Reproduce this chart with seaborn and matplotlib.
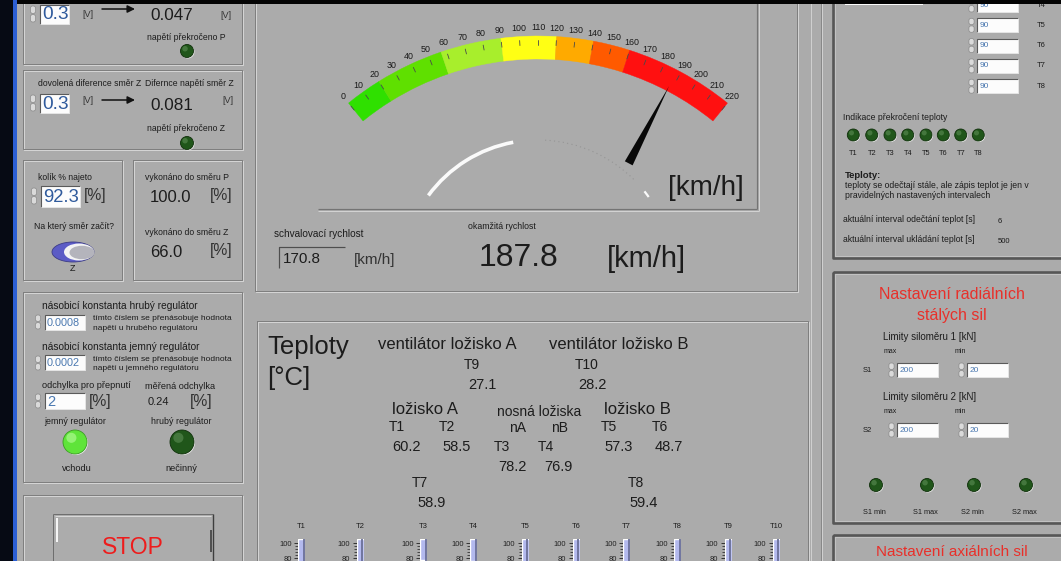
import numpy as np
import pandas as pd
import matplotlib
matplotlib.use("Agg")
import matplotlib.pyplot as plt
import seaborn as sns
from matplotlib.patches import Rectangle, Circle, Ellipse, Arc, FancyBboxPatch

# ---------------- data ----------------
GAUGE_MIN, GAUGE_MAX = 0, 220
GAUGE_TICKS = list(range(0, 221, 10))
BAND_EDGES = [0, 20, 57, 90, 120, 140, 160, 220]
BAND_COLORS = ['#2fe000', '#5fe000', '#a8ee2c', '#ffff14', '#ffaa00', '#ff5a00', '#ff1010']
SPEED_NOW = 187.8
SPEED_APPROVAL = 170.8

THERMO_NAMES = ['T1', 'T2', 'T3', 'T4', 'T5', 'T6', 'T7', 'T8', 'T9', 'T10']
THERMO_VALUES = [60.2, 58.5, 78.2, 76.9, 57.3, 48.7, 58.9, 59.4, 27.1, 28.2]
THERMO_TICKS = [80, 100]

LIMIT_P, DIFF_P = 0.3, 0.047
LIMIT_Z, DIFF_Z = 0.3, 0.081
PCT_DONE = 92.3
DONE_P, DONE_Z = 100.0, 66.0
K_COARSE, K_FINE = "0.0008", "0.0002"
SWITCH_DEV, MEAS_DEV = 2, 0.24

TEMP_LIMIT_NAMES = ['T4', 'T5', 'T6', 'T7', 'T8']
TEMP_LIMITS = [90, 90, 90, 90, 90]
LED_NAMES = ['T1', 'T2', 'T3', 'T4', 'T5', 'T6', 'T7', 'T8']
READ_INTERVAL, SAVE_INTERVAL = 6, 500
S_LIMITS = {'S1': (200, 20), 'S2': (200, 20)}
S_LED_NAMES = ['S1 min', 'S1 max', 'S2 min', 'S2 max']

# ---------------- figure ----------------
sns.set_theme(style="white")
plt.rcParams['font.family'] = ['Liberation Sans', 'DejaVu Sans']

W, H = 1061, 561
BG = '#ababab'
BLUE = '#2f5a9c'
LBLUE = '#4a78b0'
fig = plt.figure(figsize=(W / 100, H / 100), dpi=100, facecolor=BG)
ax = fig.add_axes([0, 0, 1, 1])
ax.set_xlim(0, W)
ax.set_ylim(H, 0)
ax.axis('off')
PX = 0.72


def T(x, y, s, fs, c='#1c1c1c', ha='left', va='center', **kw):
    ax.text(x, y, s, fontsize=fs, color=c, ha=ha, va=va, zorder=6, **kw)


def R(x0, y0, x1, y1, fc, z=1, **kw):
    ax.add_patch(Rectangle((x0, y0), x1 - x0, y1 - y0, facecolor=fc,
                           edgecolor='none', zorder=z, **kw))


def L(xs, ys, c, w=1.0, z=3, **kw):
    ax.plot(xs, ys, color=c, lw=w * PX, zorder=z, solid_capstyle='butt', **kw)


def box(x0, y0, x1, y1, dark='#7f7f7f', light='#d4d4d4'):
    L([x0 + 1, x1 + 1, x1 + 1, x0 + 1, x0 + 1], [y0 + 1, y0 + 1, y1 + 1, y1 + 1, y0 + 1], light)
    L([x0, x1, x1, x0, x0], [y0, y0, y1, y1, y0], dark)


def dbox(x0, y0, x1, y1):
    L([x0, x1, x1, x0, x0], [y0, y0, y1, y1, y0], '#565656', w=2.6)
    d = 2.2
    L([x0 + d, x1 - d, x1 - d, x0 + d, x0 + d], [y0 + d, y0 + d, y1 - d, y1 - d, y0 + d], '#c9c9c9', w=0.8)


def spin(x, y, h=16):
    for yy in (y - h / 2, y + 0.6):
        ax.add_patch(FancyBboxPatch((x - 2.6, yy), 5.2, h / 2 - 0.6,
                                    boxstyle='round,pad=0,rounding_size=2.2',
                                    fc='#dadada', ec='#8a8a8a', lw=0.5, zorder=4))


def numbox(x0, y0, x1, y1):
    R(x0, y0, x1, y1, '#fcfcfc', z=3)
    L([x0, x0, x1], [y1, y0, y0], '#5a5a5a', w=1.1, z=4)
    L([x0, x1, x1], [y1, y1, y0], '#e4e4e4', w=1, z=4)


def led(x, y, r, on=False):
    base, hi, edge = ('#5fe43a', '#c0ffa6', '#3a9a22') if on else ('#20561a', '#63935a', '#0f2e0a')
    ax.add_patch(Circle((x + 0.9, y + 0.9), r, fc='#efefef', ec='none', zorder=4))
    ax.add_patch(Circle((x, y), r, fc=base, ec=edge, lw=0.6, zorder=5))
    ax.add_patch(Circle((x - r * 0.3, y - r * 0.35), r * 0.42, fc=hi, ec='none', alpha=0.55, zorder=6))


def arrow(x0, x1, y):
    ax.annotate('', xy=(x1, y), xytext=(x0, y),
                arrowprops=dict(arrowstyle='-|>', color='#111111', lw=1.1,
                                mutation_scale=11, shrinkA=0, shrinkB=0), zorder=5)


# background
R(0, 0, W, H, BG, z=0)

# ---------------- left column ----------------
box(23, -5, 242, 64)
box(23, 70, 242, 149)
box(23, 160, 122, 280)
box(133, 160, 242, 280)
box(23, 292, 242, 482)
box(23, 495, 242, 575)

spin(33, 14); numbox(40, 5, 69, 24)
T(42, 14.5, f'{LIMIT_P}', 13.8, c=BLUE)
T(82, 14, '[V]', 6.5, c='#333333')
arrow(102, 135, 9)
T(150, 15, f'{DIFF_P:.3f}', 12.3)
T(220, 15, '[V]', 6.5, c='#333333')
T(186, 37, 'napětí překročeno P', 6.2, ha='center')
led(187, 51, 6.5)

T(38, 83, 'dovolená diference směr Z', 6.2)
T(145, 83, 'Difernce napětí směr Z', 6.2)
spin(33, 103); numbox(40, 94, 69, 113)
T(42, 104, f'{LIMIT_Z}', 13.8, c=BLUE)
T(82, 100, '[V]', 6.5, c='#333333')
arrow(102, 135, 100)
T(150, 105, f'{DIFF_Z:.3f}', 12.3)
T(222, 100, '[V]', 6.5, c='#333333')
T(186, 128, 'napětí překročeno Z', 6.2, ha='center')
led(187, 143, 6.5)

T(38, 177, 'kolík % najeto', 6.2)
spin(34, 196); numbox(41, 186, 80, 207)
T(43, 197, f'{PCT_DONE}', 13.3, c=BLUE)
T(84, 195, '[%]', 11.3, c='#333333')
T(73.5, 226, 'Na který směr začít?', 6.2, ha='center')
ax.add_patch(Ellipse((73, 252), 42, 20, fc='#5c5cc6', ec='#3c3c86', lw=0.6, zorder=4))
ax.add_patch(Ellipse((79, 252), 30, 17, fc='#f4f4f4', ec='none', zorder=5))
ax.add_patch(Ellipse((82, 252.5), 25, 13.5, fc='#b4b4bc', ec='none', zorder=5))
T(73, 268, 'Z', 6.5, ha='center')

T(145, 177, 'vykonáno do směru P', 6.2)
T(150, 197, f'{DONE_P:.1f}', 12)
T(210, 195, '[%]', 11.3, c='#333333')
T(145, 232, 'vykonáno do směru Z', 6.2)
T(150, 252, f'{DONE_Z:.1f}', 12)
T(210, 250, '[%]', 11.3, c='#333333')

T(42, 306, 'násobicí konstanta hrubý regulátor', 7.3)
spin(38, 322, 14); numbox(45, 315, 85, 330)
T(47, 322.5, K_COARSE, 7.8, c=LBLUE)
T(93, 318, 'tímto číslem se přenásobuje hodnota', 6)
T(93, 328, 'napětí u hrubého regulátoru', 6)
T(42, 347, 'násobicí konstanta jemný regulátor', 7.3)
spin(38, 363, 14); numbox(45, 355, 85, 370)
T(47, 363, K_FINE, 7.8, c=LBLUE)
T(93, 359, 'tímto číslem se přenásobuje hodnota', 6)
T(93, 368, 'napětí u jemného regulátoru', 6)
T(42, 385, 'odchylka pro přepnutí', 6.6)
T(145, 386, 'měřená odchylka', 6.6)
spin(38, 401, 14); numbox(45, 393, 85, 409)
T(47, 401.5, f'{SWITCH_DEV}', 10.5, c=LBLUE)
T(89, 401, '[%]', 11.3, c='#333333')
T(148, 402, f'{MEAS_DEV}', 8)
T(190, 401, '[%]', 11.3, c='#333333')
T(75, 421, 'jemný regulátor', 6.4, ha='center')
T(181, 421, 'hrubý regulátor', 6.4, ha='center')
led(75, 442, 12, on=True)
led(182, 442, 12)
T(77, 468, 'vchodu', 6.7, ha='center')
T(181, 468, 'nečinný', 6.7, ha='center')

# STOP button
R(53, 514, 213, 575, '#acacac', z=2)
L([53, 53], [514, 575], '#6e6e6e', w=1)
L([53, 213], [514, 514], '#6e6e6e', w=1)
L([213, 213], [514, 575], '#3e3e3e', w=1.4)
L([56.5, 56.5], [518, 542], '#f6f6f6', w=2)
L([54.5, 211], [516, 516], '#d8d8d8', w=1)
L([210.5, 210.5], [530, 552], '#333333', w=1.5)
T(133, 547, 'STOP', 16.5, c='#ee1c1c', ha='center')

# ---------------- middle: gauge panel ----------------
box(255, -5, 797, 291)
L([318, 757], [209, 209], '#747474', w=1.2)
L([318, 758.5], [210.6, 210.6], '#d2d2d2', w=1)
L([757, 757], [0, 209], '#747474', w=1.2)
L([758.6, 758.6], [0, 210.6], '#d2d2d2', w=1)

# hub ring reflections
ax.add_patch(Arc((538, 276), 272, 272, theta1=-143.7, theta2=-100.5, color='#fafafa', lw=2.6, zorder=3))
ax.add_patch(Arc((538, 276), 272, 272, theta1=-87, theta2=-44.3, color='#959595', lw=0.8,
                 linestyle=(0, (1, 3)), zorder=3))
ax.add_patch(Arc((538, 276), 272, 272, theta1=-38.5, theta2=-35.5, color='#fafafa', lw=1.6, zorder=3))

T(668, 188, '[km/h]', 20)
T(274, 234, 'schvalovací rychlost', 7.2)
R(279, 247, 345, 268, BG, z=2)
L([279, 279, 345], [268, 247, 247], '#4e4e4e', w=1.2)
T(283, 259, f'{SPEED_APPROVAL}', 11)
T(354, 260, '[km/h]', 11, c='#333333')
T(468, 226, 'okamžitá rychlost', 6.3)
T(479, 258, f'{SPEED_NOW}', 23)
T(607, 259, '[km/h]', 21)

# gauge in a polar axes
GCX, GCY, RP = 538, 337, 330
R_IN, R_OUT, R_LAB = 278, 301, 309
A0, SWEEP = 129.0, 78.0
axp = fig.add_axes([(GCX - RP) / W, (H - GCY - RP) / H, 2 * RP / W, 2 * RP / H], projection='polar')
axp.set_ylim(0, RP)
axp.axis('off')


def th(v):
    return np.deg2rad(A0 - (v - GAUGE_MIN) / (GAUGE_MAX - GAUGE_MIN) * SWEEP)


for lo, hi, col in zip(BAND_EDGES[:-1], BAND_EDGES[1:], BAND_COLORS):
    t0, t1 = th(lo), th(hi)
    axp.bar((t0 + t1) / 2, R_OUT - R_IN, width=abs(t0 - t1), bottom=R_IN,
            color=col, edgecolor=col, linewidth=0.3)
for v in GAUGE_TICKS:
    axp.plot([th(v), th(v)], [R_OUT - 9, R_OUT - 4], color='#4a4a4a', lw=0.6)
    axp.text(th(v), R_LAB, str(v), ha='center', va='center', fontsize=6.4, color='#1a1a1a')
tn = th(SPEED_NOW)
dw = 4.4 / 197
axp.fill([tn - dw, tn, tn + dw], [196, 283, 196], color='#080808', lw=0)

# ---------------- middle: temperature panel ----------------
box(257, 321, 808, 575)
T(267, 347, 'Teploty', 18.5)
T(267, 378, '[°C]', 18.5)
T(378, 344, 'ventilátor ložisko A', 12)
T(549, 344, 'ventilátor ložisko B', 12)
tv = dict(zip(THERMO_NAMES, THERMO_VALUES))
T(472, 365, 'T9', 10, ha='center'); T(587, 365, 'T10', 10, ha='center')
T(482, 385, f"{tv['T9']}", 10.5, ha='center'); T(592.5, 385, f"{tv['T10']}", 10.5, ha='center')
T(425.5, 409, 'ložisko A', 12, ha='center')
T(539.5, 412, 'nosná ložiska', 10, ha='center')
T(637.5, 409, 'ložisko B', 12, ha='center')
T(397, 427, 'T1', 10, ha='center'); T(447, 427, 'T2', 10, ha='center')
T(517.5, 428, 'nA', 10, ha='center'); T(560, 428, 'nB', 10, ha='center')
T(608.6, 427, 'T5', 10, ha='center'); T(660, 427, 'T6', 10, ha='center')
T(406.8, 446.5, f"{tv['T1']}", 10.5, ha='center'); T(456.8, 446.5, f"{tv['T2']}", 10.5, ha='center')
T(502, 446.5, 'T3', 10, ha='center'); T(546, 446.5, 'T4', 10, ha='center')
T(618.6, 446.5, f"{tv['T5']}", 10.5, ha='center'); T(668.6, 446.5, f"{tv['T6']}", 10.5, ha='center')
T(512, 466.5, f"{tv['T3']}", 10.5, ha='center'); T(558.6, 466.5, f"{tv['T4']}", 10.5, ha='center')
T(420, 483, 'T7', 10, ha='center'); T(636, 483, 'T8', 10, ha='center')
T(432, 503, f"{tv['T7']}", 10.5, ha='center'); T(644, 503, f"{tv['T8']}", 10.5, ha='center')

# thermometers
TH_X = [301.5, 360, 423.5, 473.5, 525, 576, 626.5, 677.5, 728, 776]
Y100, PX_PER_DEG, TOP = 543.3, 0.75, 106
y0px = Y100 + 100 * PX_PER_DEG
for name, val, xc in zip(THERMO_NAMES, THERMO_VALUES, TH_X):
    T(xc, 526, name, 5.5, ha='center')
    a = fig.add_axes([(xc - 3.5) / W, (H - y0px) / H, 7 / W, TOP * PX_PER_DEG / H])
    a.set_facecolor('none')
    sns.barplot(data=pd.DataFrame({'k': [name], 'v': [TOP]}), x='k', y='v',
                color='#b3b9ee', width=1, saturation=1, ax=a)
    sns.barplot(data=pd.DataFrame({'k': [name], 'v': [val]}), x='k', y='v',
                color='#e31414', width=1, saturation=1, ax=a)
    a.axvline(0.34, color='#6a6f98', lw=1.3)
    a.set_ylim(0, TOP)
    a.set_xlim(-0.5, 0.5)
    a.set_xlabel(''); a.set_ylabel('')
    a.set_xticks([])
    a.set_yticks(THERMO_TICKS)
    a.set_yticklabels([str(t) for t in THERMO_TICKS], fontsize=5.5, color='#222222')
    a.set_yticks([84, 88, 92, 96], minor=True)
    a.tick_params(axis='y', which='major', left=True, length=3.2, width=0.7, pad=1.2, color='#333333')
    a.tick_params(axis='y', which='minor', left=True, length=2.2, width=0.6, color='#333333')
    for s in a.spines.values():
        s.set_visible(False)

# ---------------- right column ----------------
L([811, 811], [0, H], '#cfcfcf', w=1)
L([821, 821], [0, H], '#888888', w=1)
L([822.3, 822.3], [0, H], '#d0d0d0', w=1)

dbox(833, -5, 1075, 258)
R(845, -2, 923, 4.5, '#fcfcfc', z=3)
for i, (nm, lim) in enumerate(zip(TEMP_LIMIT_NAMES, TEMP_LIMITS)):
    yy = 5 + i * 20.3
    spin(971.5, yy, 14)
    numbox(977, yy - 7, 1018, yy + 7)
    T(980, yy, f'{lim}', 6, c=LBLUE)
    T(1037, yy, nm, 5.5)
T(843, 117, 'Indikace překročení teploty', 6.2)
LED_X = [853.3, 871.7, 890, 907.7, 926, 943.3, 960.7, 978.3]
for nm, xl in zip(LED_NAMES, LED_X):
    led(xl, 135, 6)
    T(xl, 153, nm, 5.3, ha='center')
T(845, 175, 'Teploty:', 6.8, weight='bold')
T(845, 185, 'teploty se odečtají stále, ale zápis teplot je jen v', 6.2)
T(845, 195, 'pravidelných nastavených intervalech', 6.2)
T(843, 219, 'aktuální interval odečtání teplot [s]', 6.2)
T(998, 221, f'{READ_INTERVAL}', 5.5)
T(843, 239, 'aktuální interval ukládání teplot [s]', 6.2)
T(998, 241, f'{SAVE_INTERVAL}', 5.5)

dbox(833, 272, 1075, 523)
RED = '#e8302a'
T(952, 294, 'Nastavení radiálních', 11.5, c=RED, ha='center')
T(952, 315, 'stálých sil', 11.5, c=RED, ha='center')
for k, (sname, (smax, smin)) in enumerate(S_LIMITS.items()):
    dy = k * 60
    T(883, 337 + dy, f'Limity siloměru {k + 1} [kN]', 7)
    T(890, 351 + dy, 'max', 5, ha='center')
    T(960, 351 + dy, 'min', 5, ha='center')
    T(863, 370 + dy, sname, 5.5)
    spin(891.5, 370 + dy, 14); numbox(897, 362.5 + dy, 938, 377 + dy)
    T(900, 370 + dy, f'{smax}', 6, c=LBLUE)
    spin(961.5, 370 + dy, 14); numbox(967, 362.5 + dy, 1008, 377 + dy)
    T(970, 370 + dy, f'{smin}', 6, c=LBLUE)
S_LED_X = [876, 927, 974, 1026]
for nm, xl in zip(S_LED_NAMES, S_LED_X):
    led(xl, 485, 6.5)
    T(xl - 2, 512, nm, 5.3, ha='center')

dbox(833, 535, 1075, 600)
T(952, 551.5, 'Nastavení axiálních sil', 11, c=RED, ha='center')

# window frame
R(0, 0, W, 3.5, '#040404', z=20)
R(0, 0, 13, H, '#060a14', z=20)
R(13, 0, 17, H, '#2c5fd4', z=20)

fig.savefig('out.png', dpi=100, facecolor=BG)
